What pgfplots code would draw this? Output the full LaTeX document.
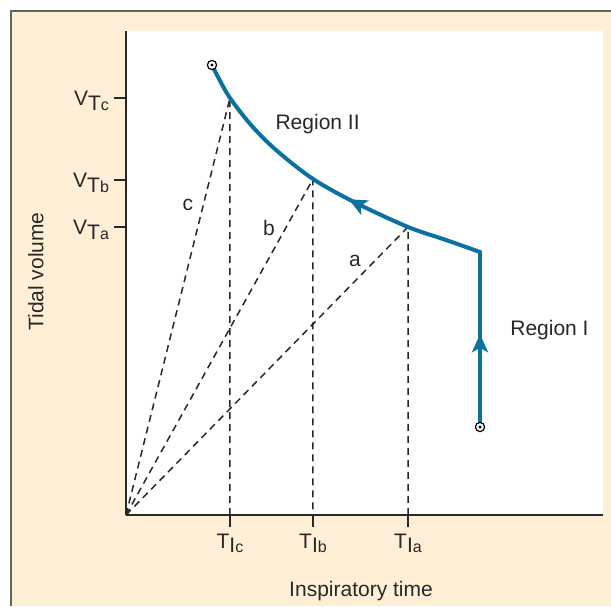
\documentclass[border=0pt]{standalone}
\usepackage{fontspec}
\setmainfont{Liberation Sans}
\usepackage{pgfplots}
\pgfplotsset{compat=1.18}
\usetikzlibrary{decorations.markings,arrows.meta}

\definecolor{cream}{RGB}{255,239,214}
\definecolor{framegray}{RGB}{100,100,100}
\definecolor{axisgray}{RGB}{40,40,40}
\definecolor{curveblue}{RGB}{12,112,160}

\newcommand{\lab}{\fontsize{10.5}{12}\selectfont}

\begin{document}
\begin{tikzpicture}
% page and frame (1 px of the reference = 0.5pt)
\useasboundingbox (-63pt,-45.5pt) rectangle (242.5pt,257.5pt);
\fill[cream] (-57.5pt,-45.5pt) rectangle (242.5pt,252pt);
\draw[framegray, line width=1pt] (-57.5pt,-45.5pt) -- (-57.5pt,252pt) -- (242.5pt,252pt);

\begin{axis}[
    x=0.5pt, y=0.5pt,
    xmin=0, xmax=477, ymin=0, ymax=484,
    axis x line=bottom, axis y line=left,
    axis line style={-, line width=1.2pt, color=axisgray},
    axis background/.style={fill=white},
    tick align=outside,
    major tick length=6pt,
    tick style={line width=1pt, color=axisgray},
    xtick={104,187,282},
    xticklabels={
        T\smash{\raisebox{-0.4ex}{I{\fontsize{8}{9}\selectfont c}}},
        T\smash{\raisebox{-0.4ex}{I{\fontsize{8}{9}\selectfont b}}},
        T\smash{\raisebox{-0.4ex}{I{\fontsize{8}{9}\selectfont a}}}},
    ytick={288,335,417},
    yticklabels={
        V\smash{\raisebox{-0.45ex}{T{\fontsize{8}{9}\selectfont a}}},
        V\smash{\raisebox{-0.45ex}{T{\fontsize{8}{9}\selectfont b}}},
        V\smash{\raisebox{-0.45ex}{T{\fontsize{8}{9}\selectfont c}}}},
    every tick label/.append style={font=\lab, text=axisgray},
    xticklabel style={anchor=north},
    yticklabel style={anchor=east, xshift=1pt},
    xlabel={Inspiratory time},
    ylabel={Tidal volume},
    xlabel style={font=\lab, text=axisgray, at={(axis description cs:0.4927,-0.1694)}, anchor=base},
    ylabel style={font=\lab, text=axisgray, at={(axis description cs:-0.1887,0.503)}, anchor=center},
    clip=false,
]
% guide lines
\addplot[axisgray, line width=0.75pt, dash pattern=on 3.5pt off 2.5pt] coordinates {(0,0) (104,417) (104,0)};
\addplot[axisgray, line width=0.75pt, dash pattern=on 3.5pt off 2.5pt] coordinates {(0,0) (187,336) (187,0)};
\addplot[axisgray, line width=0.75pt, dash pattern=on 3.5pt off 2.5pt] coordinates {(0,0) (282,288) (282,0)};

% region I (vertical rise)
\addplot[curveblue, line width=2pt, line cap=round,
    postaction={decorate, decoration={markings,
        mark=at position 0.53 with {\arrow{Stealth[length=9pt,width=8pt,inset=2.2pt]}}}}]
    coordinates {(354,88) (354,263)};
% region II (curve)
\addplot[curveblue, line width=2pt, line cap=round, smooth,
    postaction={decorate, decoration={markings,
        mark=at position 0.42 with {\arrow{Stealth[length=9pt,width=8pt,inset=2.2pt]}}}}]
    coordinates {(354,263) (320,275) (282,288) (230,312) (187,336) (150,365) (125,390) (104,417) (92,438) (86,450)};

% start and end points
\addplot[only marks, mark=*, mark size=2.3pt, mark options={fill=white, draw=black, line width=0.6pt}]
    coordinates {(86,450) (354,88)};
\addplot[only marks, mark=*, mark size=0.55pt, black] coordinates {(86,450) (354,88)};

\node[anchor=base, font=\lab, text=axisgray] at (axis cs:191.6,385.5) {Region II};
\node[anchor=base, font=\lab, text=axisgray] at (axis cs:423.5,179.5) {Region I};
\node[font=\lab, text=axisgray] at (axis cs:62,310) {c};
\node[font=\lab, text=axisgray] at (axis cs:143,287) {b};
\node[font=\lab, text=axisgray] at (axis cs:229,254) {a};
\end{axis}
\end{tikzpicture}
\end{document}
